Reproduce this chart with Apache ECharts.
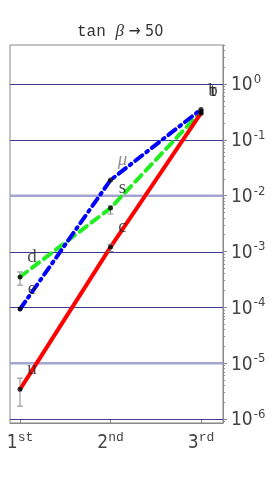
<!DOCTYPE html>
<html>
<head>
<meta charset="utf-8">
<script src="https://cdn.jsdelivr.net/npm/echarts@6/dist/echarts.min.js"></script>
<style>html,body{margin:0;padding:0;background:#fff}#c{width:274px;height:478px}</style>
</head>
<body>
<div id="c"></div>
<script>
// Generation positions (x) and tick labels
const generations = [1, 2, 3];
const genLabels = ['1', '2', '3'];
const genSuffix = ['st', 'nd', 'rd'];
// Up-type quarks u, c, t
const upQuarks = [3.4e-6, 1.2e-3, 0.30];
// Down-type quarks d, s, b
const downQuarks = [3.5e-4, 6.0e-3, 0.32];
// Charged leptons e, mu, tau
const leptons = [9.3e-5, 0.019, 0.35];
// Point labels
const upNames = ['u', 'c', 't'];
const downNames = ['d', 's', 'b'];
const leptonNames = ['e', 'μ', 'τ'];
// Error bars: [generation, low, high]
const errorBars = [
  [1, 1.7e-6, 5.4e-6],
  [2, 1.0e-3, 1.35e-3],
  [1, 2.5e-4, 4.3e-4],
  [2, 4.7e-3, 6.6e-3],
  [3, 0.29, 0.34]
];
// Grid line values (powers of ten); kind 0 = dark thin, 1 = light thick
const gridValues = [1, 0.1, 1e-2, 1e-3, 1e-4, 1e-5, 1e-6];
const gridKinds = [0, 0, 1, 0, 0, 1, 0];
// Minor tick values on the log axis
const minorTicks = [];
for (let e = -7; e <= 0; e++) {
  for (let m = 2; m <= 9; m++) minorTicks.push(m * Math.pow(10, e));
}

const pairs = (vals) => generations.map((g, i) => [g, vals[i]]);
const labelPts = (vals, names) => generations.map((g, i) => ({ value: [g, vals[i]], name: names[i] }));

const chart = echarts.init(document.getElementById('c'), null, { renderer: 'canvas' });

const labelStyle = {
  show: true,
  position: 'inside',
  offset: [12, -20],
  formatter: '{b}',
  fontFamily: 'Liberation Serif',
  fontSize: 19,
  color: '#222'
};
const muLabel = {
  show: true, position: 'inside', offset: [12, -20], formatter: '{b}',
  fontFamily: 'Liberation Serif', fontSize: 19, color: '#777', fontStyle: 'italic'
};

const allLabels = []
  .concat(labelPts(upQuarks, upNames), labelPts(downQuarks, downNames), labelPts(leptons, leptonNames))
  .map(d => {
    if (d.name === 't' || d.name === 'b' || d.name === 'τ') d.value = [3, 0.33];
    if (d.name === 'μ') d.label = muLabel;
    return d;
  });

chart.setOption({
  animation: false,
  title: {
    text: '{m|tan }{g|β}{n| → 50}',
    left: 72,
    top: 18,
    textStyle: {
      fontWeight: 'normal',
      rich: {
        m: { fontFamily: 'Liberation Mono', fontSize: 16, fontWeight: 'normal', color: '#333' },
        g: { fontFamily: 'Liberation Serif', fontStyle: 'italic', fontWeight: 'normal', fontSize: 17, color: '#333' },
        n: { fontFamily: 'DejaVu Sans Condensed', fontWeight: 'normal', fontSize: 16, color: '#333' }
      }
    }
  },
  grid: {
    left: 10, right: 51, top: 45, bottom: 55,
    show: true, borderColor: '#888', borderWidth: 1, backgroundColor: 'transparent'
  },
  xAxis: {
    type: 'value',
    min: 0.8895,
    max: 3.243,
    splitLine: { show: false },
    axisLine: { show: true, lineStyle: { color: '#888' } },
    axisTick: { show: true, inside: true, length: 4, lineStyle: { color: '#888' }, customValues: generations },
    axisLabel: {
      customValues: generations,
      margin: 8,
      formatter: (v) => {
        const i = generations.indexOf(Math.round(v));
        return '{b|' + genLabels[i] + '}{s|' + genSuffix[i] + '}';
      },
      rich: {
        b: { fontFamily: 'DejaVu Sans Condensed', fontSize: 19, color: '#444', verticalAlign: 'bottom', lineHeight: 22 },
        s: { fontFamily: 'Liberation Mono', fontSize: 13, color: '#444', verticalAlign: 'top', padding: [0, 0, 8, 0] }
      }
    }
  },
  yAxis: [{
    type: 'log',
    logBase: 10,
    min: 8.48e-7,
    max: 5,
    splitNumber: 10,
    position: 'right',
    splitLine: { show: false },
    axisLine: { show: true, lineStyle: { color: '#888' } },
    axisTick: { show: true, inside: false, length: 4, lineStyle: { color: '#888' } },
    axisLabel: {
      showMinLabel: false,
      showMaxLabel: false,
      margin: 8,
      formatter: (v) => {
        const e = Math.round(Math.log10(v));
        return '{b|10}{s|' + (e < 0 ? '-' + (-e) : e) + '}';
      },
      rich: {
        b: { fontFamily: 'DejaVu Sans Condensed', fontSize: 19, color: '#444', lineHeight: 22, verticalAlign: 'bottom' },
        s: { fontFamily: 'DejaVu Sans Condensed', fontSize: 13, color: '#444', verticalAlign: 'top', padding: [0, 0, 8, 1] }
      }
    }
  }, {
    type: 'log',
    logBase: 10,
    min: 8.48e-7,
    max: 5,
    position: 'right',
    splitLine: { show: false },
    axisLine: { show: false },
    axisLabel: { show: false },
    axisTick: { show: true, inside: false, length: 2, lineStyle: { color: '#888' }, customValues: minorTicks }
  }],
  series: [
    {
      type: 'custom', name: 'grid', z: 1, silent: true,
      data: gridValues.map((v, i) => [1, v, gridKinds[i]]),
      encode: { x: 0, y: 1 },
      renderItem: (params, api) => {
        const cs = params.coordSys;
        const p = api.coord([api.value(0), api.value(1)]);
        const light = api.value(2) === 1;
        const y = light ? p[1] : Math.round(p[1]) + 0.5;
        return {
          type: 'line',
          shape: { x1: cs.x, y1: y, x2: cs.x + cs.width, y2: y },
          style: { stroke: light ? '#a4a4d2' : '#3a3a90', lineWidth: light ? 2.5 : 1 }
        };
      }
    },
    {
      type: 'line', name: 'down', data: pairs(downQuarks), symbol: 'none', z: 3,
      lineStyle: { color: '#22ee22', width: 4, type: [9, 6], cap: 'round' }
    },
    {
      type: 'line', name: 'lepton', data: pairs(leptons), symbol: 'none', z: 4,
      lineStyle: { color: '#0000ff', width: 4, type: [9, 5, 2, 5], cap: 'round' }
    },
    {
      type: 'line', name: 'up', data: pairs(upQuarks), symbol: 'none', z: 5,
      lineStyle: { color: '#ff0000', width: 4, type: 'solid' }
    },
    {
      type: 'custom', name: 'err', z: 6,
      data: errorBars,
      renderItem: (params, api) => {
        const x = api.value(0);
        const lo = api.coord([x, api.value(1)]);
        const hi = api.coord([x, api.value(2)]);
        const w = 3;
        const st = { stroke: '#888', lineWidth: 1 };
        return {
          type: 'group',
          children: [
            { type: 'line', shape: { x1: lo[0], y1: lo[1], x2: hi[0], y2: hi[1] }, style: st },
            { type: 'line', shape: { x1: lo[0] - w, y1: lo[1], x2: lo[0] + w, y2: lo[1] }, style: st },
            { type: 'line', shape: { x1: hi[0] - w, y1: hi[1], x2: hi[0] + w, y2: hi[1] }, style: st }
          ]
        };
      }
    },
    {
      type: 'scatter', name: 'pts', z: 7, symbol: 'circle', symbolSize: 5,
      itemStyle: { color: '#000' },
      data: pairs(upQuarks).concat(pairs(downQuarks), pairs(leptons))
    },
    {
      type: 'scatter', name: 'labels', z: 8, symbolSize: 0,
      label: labelStyle,
      data: allLabels
    }
  ]
});
</script>
</body>
</html>
